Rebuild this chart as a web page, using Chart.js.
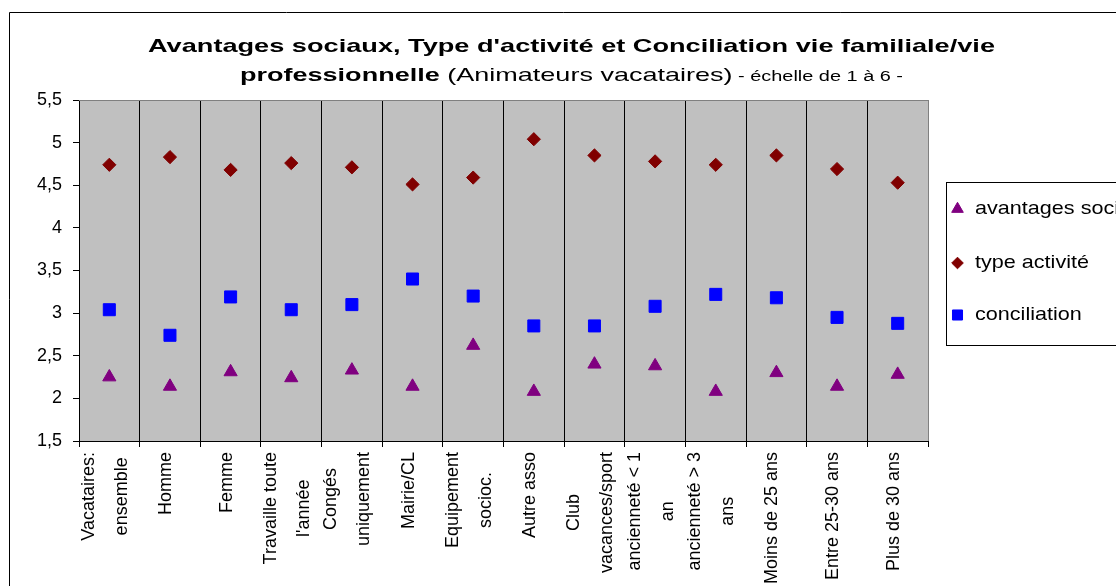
<!DOCTYPE html>
<html>
<head>
<meta charset="utf-8">
<script src="https://cdn.jsdelivr.net/npm/chart.js@4.4.1/dist/chart.umd.min.js"></script>
<style>
  html, body { margin: 0; padding: 0; background: #fff; overflow: hidden; }
  #wrap { position: relative; width: 1116px; height: 586px; }
</style>
</head>
<body>
<div id="wrap"><canvas id="chart" width="1116" height="586"></canvas></div>
<script>
const categories = [
  ['Vacataires:', 'ensemble'],
  ['Homme'],
  ['Femme'],
  ['Travaille toute', "l'année"],
  ['Congés', 'uniquement'],
  ['Mairie/CL'],
  ['Equipement', 'socioc.'],
  ['Autre asso'],
  ['Club', 'vacances/sport'],
  ['ancienneté < 1', 'an'],
  ['ancienneté > 3', 'ans'],
  ['Moins de 25 ans'],
  ['Entre 25-30 ans'],
  ['Plus de 30 ans']
];

const avantagesSociaux = [2.25, 2.14, 2.31, 2.24, 2.33, 2.14, 2.62, 2.08, 2.40, 2.38, 2.08, 2.30, 2.14, 2.28];
const typeActivite = [4.74, 4.83, 4.68, 4.76, 4.71, 4.51, 4.59, 5.04, 4.85, 4.78, 4.74, 4.85, 4.69, 4.53];
const conciliation = [3.04, 2.74, 3.19, 3.04, 3.10, 3.40, 3.20, 2.85, 2.85, 3.08, 3.22, 3.18, 2.95, 2.88];

const yTickLabels = ['1,5', '2', '2,5', '3', '3,5', '4', '4,5', '5', '5,5'];

const FONT = '"Liberation Sans", Arial, sans-serif';

// text drawn with a horizontal stretch so a run of parts fills a given width
function drawStretched(ctx, parts, cx, y, targetW) {
  let w = 0;
  parts.forEach(p => { ctx.font = p.font; p.w = ctx.measureText(p.text).width; w += p.w; });
  const sx = targetW / w;
  ctx.save();
  ctx.translate(cx - targetW / 2, y);
  ctx.scale(sx, 1);
  ctx.textAlign = 'left';
  ctx.textBaseline = 'alphabetic';
  let x = 0;
  parts.forEach(p => { ctx.font = p.font; ctx.fillText(p.text, x, 0); x += p.w; });
  ctx.restore();
}

const frame = {
  id: 'frame',
  beforeDraw(chart) {
    const { ctx, chartArea: a } = chart;
    ctx.save();
    ctx.fillStyle = '#fff';
    ctx.fillRect(0, 0, chart.width, chart.height);
    ctx.strokeStyle = '#000';
    ctx.lineWidth = 1;
    ctx.beginPath();
    ctx.moveTo(9.5, chart.height + 5);
    ctx.lineTo(9.5, 12.5);
    ctx.lineTo(chart.width + 5, 12.5);
    ctx.stroke();
    ctx.fillStyle = '#c0c0c0';
    ctx.fillRect(a.left, a.top, a.right - a.left, a.bottom - a.top);
    ctx.restore();
  },
  afterDraw(chart) {
    const { ctx, chartArea: a } = chart;
    ctx.save();
    // plot area top edge
    ctx.strokeStyle = '#808080';
    ctx.beginPath();
    ctx.moveTo(a.left, Math.round(a.top) + 0.5);
    ctx.lineTo(a.right + 0.5, Math.round(a.top) + 0.5);
    ctx.stroke();

    // title
    ctx.fillStyle = '#000';
    drawStretched(ctx, [
      { text: "Avantages sociaux, Type d'activité et Conciliation vie familiale/vie", font: 'bold 19px ' + FONT }
    ], 571.5, 52, 847);
    drawStretched(ctx, [
      { text: 'professionnelle', font: 'bold 19px ' + FONT },
      { text: ' (Animateurs vacataires)', font: '19px ' + FONT },
      { text: ' - échelle de 1 à 6 -', font: '14px ' + FONT }
    ], 571.5, 81, 663);

    // category labels, rotated, lines centred on each other
    const xs = chart.scales.x;
    ctx.font = '18px ' + FONT;
    ctx.textAlign = 'center';
    ctx.textBaseline = 'middle';
    categories.forEach((lines, i) => {
      const cx = xs.getPixelForValue(i) - 4;
      const maxW = Math.max(...lines.map(l => ctx.measureText(l).width));
      const cy = a.bottom + 11 + maxW / 2;
      lines.forEach((l, j) => {
        ctx.save();
        ctx.translate(cx + (j - (lines.length - 1) / 2) * 33, cy);
        ctx.rotate(-Math.PI / 2);
        ctx.fillText(l, 0, 0);
        ctx.restore();
      });
    });

    // legend box
    ctx.strokeStyle = '#000';
    ctx.lineWidth = 1;
    ctx.strokeRect(946.5, 182.5, 300, 163);
    const rows = [209, 263, 315];
    const sizes = [6.7, 5.8, 7.1];
    ctx.font = '19px ' + FONT;
    const sx = 114 / ctx.measureText('type activité').width;
    chart.data.datasets.forEach((ds, i) => {
      ctx.fillStyle = ds.pointBackgroundColor;
      ctx.strokeStyle = ds.pointBorderColor;
      Chart.helpers.drawPoint(ctx, { pointStyle: ds.pointStyle, radius: sizes[i], borderWidth: 1, rotation: 0 }, 957.5, rows[i]);
      ctx.save();
      ctx.fillStyle = '#000';
      ctx.textAlign = 'left';
      ctx.textBaseline = 'middle';
      ctx.translate(975, rows[i]);
      ctx.scale(sx, 1);
      ctx.fillText(ds.label, 0, 0);
      ctx.restore();
    });
    ctx.restore();
  }
};

new Chart(document.getElementById('chart'), {
  type: 'line',
  data: {
    labels: categories,
    datasets: [
      {
        label: 'avantages sociaux',
        data: avantagesSociaux,
        showLine: false,
        pointStyle: 'triangle',
        pointRadius: 7.6,
        pointBackgroundColor: '#800080',
        pointBorderColor: '#800080',
        pointBorderWidth: 1
      },
      {
        label: 'type activité',
        data: typeActivite,
        showLine: false,
        pointStyle: 'rectRot',
        pointRadius: 6.6,
        pointBackgroundColor: '#800000',
        pointBorderColor: '#800000',
        pointBorderWidth: 1
      },
      {
        label: 'conciliation',
        data: conciliation,
        showLine: false,
        pointStyle: 'rect',
        pointRadius: 8.5,
        pointBackgroundColor: '#0000ff',
        pointBorderColor: '#0000ff',
        pointBorderWidth: 1
      }
    ]
  },
  options: {
    responsive: false,
    animation: false,
    events: [],
    layout: { padding: { top: 100, right: 188, left: 0, bottom: 0 } },
    plugins: {
      legend: { display: false },
      title: { display: false },
      tooltip: { enabled: false }
    },
    scales: {
      x: {
        offset: true,
        grid: {
          offset: true,
          color: c => (c.type === 'tick' ? '#000' : '#808080'),
          tickColor: '#000',
          tickLength: 6,
          lineWidth: 1
        },
        border: { color: '#000', width: 1 },
        ticks: { display: false },
        afterFit: s => { s.height = 145; }
      },
      y: {
        min: 1.5,
        max: 5.5,
        ticks: {
          stepSize: 0.5,
          callback: (v, i) => yTickLabels[i],
          font: { family: FONT, size: 18 },
          color: '#000',
          padding: 11
        },
        grid: { drawOnChartArea: false, tickLength: 6, tickColor: '#000' },
        border: { color: '#000', width: 1 },
        afterFit: s => { s.width = 79; }
      }
    }
  },
  plugins: [frame]
});
</script>
</body>
</html>
